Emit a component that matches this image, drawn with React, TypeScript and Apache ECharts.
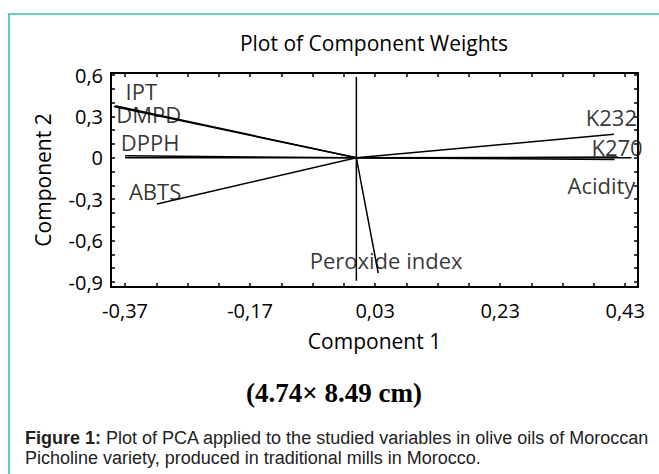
import React, { useEffect, useRef } from "react";
import * as echarts from "echarts";

// Variable names and loading vectors (Component 1, Component 2)
const varNames = ["IPT", "DMPD", "DPPH", "ABTS", "Peroxide index", "K232", "K270", "Acidity"];
const vecX = [-0.386, -0.388, -0.37, -0.319, 0.035, 0.412, 0.418, 0.413];
const vecY = [0.378, 0.372, 0.015, -0.335, -0.835, 0.17, 0.005, -0.012];

// Label anchor positions (data units)
const labelX = [-0.344, -0.332, -0.33, -0.322, 0.0476, 0.408, 0.417, 0.392];
const labelY = [0.487, 0.318, 0.115, -0.24, -0.74, 0.295, 0.078, -0.197];

// Reference lines through the origin
const refHX = [-0.37, 0.44];
const refHY = [0, 0];
const refVX = [0, 0];
const refVY = [-0.89, 0.585];

// Axis ranges and tick labels
const xRange = [-0.3925, 0.4505];
const yRange = [-0.936, 0.6145];
const xTicksMajor = [-0.37, -0.17, 0.03, 0.23, 0.43];
const yTicksMajor = [-0.9, -0.6, -0.3, 0, 0.3, 0.6];
const xMinorStep = 0.05;
const yMinorStep = 0.1;

const chartFont = "'Open Sans', 'Noto Sans', sans-serif";
const captionFont = "'Liberation Sans', Arial, sans-serif";

function ticksBetween(a: number, b: number, step: number): number[] {
  const out: number[] = [];
  const n = Math.round((b - a) / step);
  for (let i = 0; i <= n; i++) out.push(Math.round((a + i * step) * 1000) / 1000);
  return out;
}

const fmt = (v: number) => (Math.abs(v) < 1e-9 ? "0" : String(Math.round(v * 100) / 100).replace(".", ","));

export default function App() {
  const ref = useRef<HTMLDivElement>(null);
  useEffect(() => {
    if (!ref.current) return;
    const chart = echarts.init(ref.current, undefined, { renderer: "svg" });
    const xTicksAll = ticksBetween(xTicksMajor[0], xTicksMajor[xTicksMajor.length - 1], xMinorStep);
    const yTicksAll = ticksBetween(yTicksMajor[0], yTicksMajor[yTicksMajor.length - 1], yMinorStep);

    const axisLine = { show: true, onZero: false, lineStyle: { color: "#000", width: 2 } };
    const tick = (vals: number[]) => ({ show: true, inside: true, length: 4, customValues: vals, lineStyle: { color: "#000", width: 1.5 } });

    const vectorSeries = varNames.map((n, i) => ({
      type: "line",
      name: n,
      data: [[0, 0], [vecX[i], vecY[i]]],
      symbol: "none",
      lineStyle: { color: "#000", width: 1.5 },
      xAxisIndex: 0,
      yAxisIndex: 0,
      silent: true,
    }));

    const option: any = {
      animation: false,
      backgroundColor: "#fff",
      title: {
        text: "Plot of Component Weights",
        left: 374,
        top: 32,
        textAlign: "center",
        padding: 0,
        textStyle: { fontFamily: chartFont, fontSize: 21, fontWeight: "normal", color: "#000" },
      },
      grid: { left: 111, right: 21, top: 73, bottom: 187, containLabel: false },
      xAxis: [
        {
          type: "value",
          position: "bottom",
          min: xRange[0],
          max: xRange[1],
          axisLine,
          axisTick: tick(xTicksAll),
          splitLine: { show: false },
          axisLabel: {
            customValues: xTicksMajor,
            formatter: fmt,
            margin: 13,
            fontFamily: chartFont,
            fontSize: 20,
            color: "#000",
          },
          name: "Component 1",
          nameLocation: "middle",
          nameGap: 43,
          nameTextStyle: { fontFamily: chartFont, fontSize: 21, color: "#000" },
        },
        {
          type: "value",
          position: "top",
          min: xRange[0],
          max: xRange[1],
          axisLine,
          axisTick: tick(xTicksAll),
          splitLine: { show: false },
          axisLabel: { show: false },
        },
      ],
      yAxis: [
        {
          type: "value",
          position: "left",
          min: yRange[0],
          max: yRange[1],
          axisLine,
          axisTick: tick(yTicksAll),
          splitLine: { show: false },
          axisLabel: {
            customValues: yTicksMajor,
            formatter: fmt,
            margin: 8,
            fontFamily: chartFont,
            fontSize: 20,
            color: "#000",
          },
          name: "Component 2",
          nameLocation: "middle",
          nameGap: 58,
          nameTextStyle: { fontFamily: chartFont, fontSize: 21, color: "#000" },
        },
        {
          type: "value",
          position: "right",
          min: yRange[0],
          max: yRange[1],
          axisLine,
          axisTick: tick(yTicksAll),
          splitLine: { show: false },
          axisLabel: { show: false },
        },
      ],
      series: [
        {
          type: "line",
          name: "refH",
          data: refHX.map((x, i) => [x, refHY[i]]),
          symbol: "none",
          lineStyle: { color: "#000", width: 1.5 },
          silent: true,
        },
        {
          type: "line",
          name: "refV",
          data: refVX.map((x, i) => [x, refVY[i]]),
          symbol: "none",
          lineStyle: { color: "#000", width: 1.5 },
          silent: true,
        },
        ...vectorSeries,
        {
          type: "scatter",
          name: "labels",
          data: varNames.map((n, i) => [labelX[i], labelY[i], n]),
          symbolSize: 0,
          silent: true,
          label: {
            show: true,
            position: "inside",
            formatter: (p: any) => p.data[2],
            fontFamily: chartFont,
            fontSize: 22,
            lineHeight: 20,
            color: "#000",
          },
        },
      ],
      graphic: [
        {
          type: "polyline",
          shape: { points: [[9, 480], [9, 14], [665, 14]] },
          style: { stroke: "#3dbcae", lineWidth: 1.6, fill: "none" },
          silent: true,
        },
        {
          type: "text",
          x: 334,
          y: 393,
          style: {
            text: "(4.74\u00d7 8.49 cm)",
            fontFamily: "'Liberation Serif', 'Times New Roman', serif",
            fontWeight: "bold",
            fontSize: 27,
            fill: "#000",
            align: "center",
            verticalAlign: "middle",
          },
        },
        {
          type: "text",
          x: 25,
          y: 438,
          style: {
            text: "{b|Figure 1:} Plot of PCA applied to the studied variables in olive oils of Moroccan",
            fontFamily: captionFont,
            fontSize: 18,
            fill: "#222",
            align: "left",
            verticalAlign: "middle",
            rich: { b: { fontWeight: "bold", fontFamily: captionFont, fontSize: 18, fill: "#222" } },
          },
        },
        {
          type: "text",
          x: 25,
          y: 458,
          style: {
            text: "Picholine variety, produced in traditional mills in Morocco.",
            fontFamily: captionFont,
            fontSize: 18,
            fill: "#222",
            align: "left",
            verticalAlign: "middle",
          },
        },
      ],
    };
    chart.setOption(option);
    return () => chart.dispose();
  }, []);
  return (
    <div
      ref={ref}
      style={{ position: "fixed", left: 0, top: 0, width: 659, height: 474, background: "#fff" }}
    />
  );
}
